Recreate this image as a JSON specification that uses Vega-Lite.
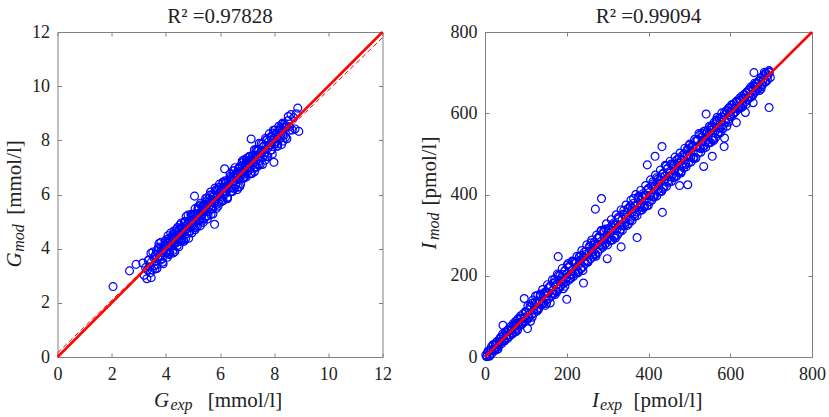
{
  "$schema": "https://vega.github.io/schema/vega-lite/v6.json",
  "padding": {"left": 2.5, "top": 5, "right": 5, "bottom": 5},
  "spacing": 24.5,
  "datasets": {
    "G": [
      {"x": 2.05, "y": 2.6}, {"x": 2.66, "y": 3.18}, {"x": 2.9, "y": 3.42}, {"x": 3.46, "y": 2.93},
      {"x": 8.87, "y": 9.19}, {"x": 8.91, "y": 8.33}, {"x": 5.8, "y": 4.9}, {"x": 7.99, "y": 7.19},
      {"x": 6.17, "y": 6.95}, {"x": 5.06, "y": 5.94}, {"x": 7.15, "y": 8.05},
      {"x": 3.15, "y": 3.47}, {"x": 3.2, "y": 3.02}, {"x": 3.25, "y": 3.3}, {"x": 3.3, "y": 2.89},
      {"x": 3.35, "y": 3.56}, {"x": 3.4, "y": 3.33}, {"x": 3.45, "y": 3.83}, {"x": 3.5, "y": 3.21},
      {"x": 3.55, "y": 3.67}, {"x": 3.6, "y": 3.25}, {"x": 3.65, "y": 3.92}, {"x": 3.7, "y": 3.68},
      {"x": 3.75, "y": 4.19}, {"x": 3.8, "y": 3.58}, {"x": 3.85, "y": 3.94}, {"x": 3.9, "y": 3.44},
      {"x": 3.95, "y": 4.12}, {"x": 4.0, "y": 3.88},
      {"x": 4.03, "y": 4.34}, {"x": 4.06, "y": 3.68}, {"x": 4.09, "y": 4.11}, {"x": 4.12, "y": 4.37},
      {"x": 4.15, "y": 3.88}, {"x": 4.18, "y": 4.58}, {"x": 4.21, "y": 4.12}, {"x": 4.24, "y": 4.38},
      {"x": 4.27, "y": 3.94}, {"x": 4.3, "y": 4.65}, {"x": 4.33, "y": 4.18}, {"x": 4.36, "y": 4.43},
      {"x": 4.39, "y": 4.71}, {"x": 4.42, "y": 4.24}, {"x": 4.45, "y": 4.5}, {"x": 4.48, "y": 4.07},
      {"x": 4.51, "y": 4.72}, {"x": 4.54, "y": 4.47}, {"x": 4.57, "y": 4.95}, {"x": 4.6, "y": 4.31},
      {"x": 4.63, "y": 4.75}, {"x": 4.66, "y": 4.31}, {"x": 4.69, "y": 4.96}, {"x": 4.72, "y": 4.7},
      {"x": 4.75, "y": 5.19}, {"x": 4.78, "y": 4.56}, {"x": 4.81, "y": 4.9}, {"x": 4.84, "y": 4.38},
      {"x": 4.87, "y": 5.04}, {"x": 4.9, "y": 4.78}, {"x": 4.93, "y": 5.24}, {"x": 4.96, "y": 4.58},
      {"x": 4.99, "y": 5.01}, {"x": 5.02, "y": 5.27}, {"x": 5.05, "y": 4.78}, {"x": 5.08, "y": 5.48},
      {"x": 5.11, "y": 5.02}, {"x": 5.14, "y": 5.28}, {"x": 5.17, "y": 4.84}, {"x": 5.2, "y": 5.55},
      {"x": 5.23, "y": 5.08}, {"x": 5.26, "y": 5.33}, {"x": 5.29, "y": 5.61}, {"x": 5.32, "y": 5.14},
      {"x": 5.35, "y": 5.4}, {"x": 5.38, "y": 4.97}, {"x": 5.41, "y": 5.62}, {"x": 5.44, "y": 5.37},
      {"x": 5.47, "y": 5.85}, {"x": 5.5, "y": 5.21}, {"x": 5.53, "y": 5.65}, {"x": 5.56, "y": 5.21},
      {"x": 5.59, "y": 5.86}, {"x": 5.62, "y": 5.6}, {"x": 5.65, "y": 6.09}, {"x": 5.68, "y": 5.46},
      {"x": 5.71, "y": 5.8}, {"x": 5.74, "y": 5.28}, {"x": 5.77, "y": 5.94}, {"x": 5.8, "y": 5.68},
      {"x": 5.83, "y": 6.14}, {"x": 5.86, "y": 5.48}, {"x": 5.89, "y": 5.91}, {"x": 5.92, "y": 6.17},
      {"x": 5.95, "y": 5.68}, {"x": 5.98, "y": 6.38}, {"x": 6.01, "y": 5.92}, {"x": 6.04, "y": 6.18},
      {"x": 6.07, "y": 5.74}, {"x": 6.1, "y": 6.45}, {"x": 6.13, "y": 5.98}, {"x": 6.16, "y": 6.23},
      {"x": 6.19, "y": 6.51}, {"x": 6.22, "y": 6.04}, {"x": 6.25, "y": 6.3}, {"x": 6.28, "y": 5.87},
      {"x": 6.31, "y": 6.52}, {"x": 6.34, "y": 6.27}, {"x": 6.37, "y": 6.75}, {"x": 6.4, "y": 6.11},
      {"x": 6.43, "y": 6.55}, {"x": 6.46, "y": 6.11}, {"x": 6.49, "y": 6.76}, {"x": 6.52, "y": 6.5},
      {"x": 6.55, "y": 6.99}, {"x": 6.58, "y": 6.36}, {"x": 6.61, "y": 6.7}, {"x": 6.64, "y": 6.18},
      {"x": 6.67, "y": 6.84}, {"x": 6.7, "y": 6.58}, {"x": 6.73, "y": 7.04}, {"x": 6.76, "y": 6.38},
      {"x": 6.79, "y": 6.81}, {"x": 6.82, "y": 7.07}, {"x": 6.85, "y": 6.58}, {"x": 6.88, "y": 7.28},
      {"x": 6.91, "y": 6.82}, {"x": 6.94, "y": 7.08}, {"x": 6.97, "y": 6.64}, {"x": 7.0, "y": 7.35},
      {"x": 7.03, "y": 6.88}, {"x": 7.06, "y": 7.13}, {"x": 7.09, "y": 7.41}, {"x": 7.12, "y": 6.94},
      {"x": 7.15, "y": 7.2}, {"x": 7.18, "y": 6.77}, {"x": 7.21, "y": 7.42}, {"x": 7.24, "y": 7.17},
      {"x": 7.27, "y": 7.65}, {"x": 7.3, "y": 7.01}, {"x": 7.33, "y": 7.45}, {"x": 7.36, "y": 7.01},
      {"x": 7.39, "y": 7.66}, {"x": 7.42, "y": 7.4}, {"x": 7.45, "y": 7.89}, {"x": 7.48, "y": 7.26},
      {"x": 7.52, "y": 7.61}, {"x": 7.57, "y": 7.11}, {"x": 7.62, "y": 7.79}, {"x": 7.67, "y": 7.55},
      {"x": 7.72, "y": 8.03}, {"x": 7.77, "y": 7.39}, {"x": 7.82, "y": 7.84}, {"x": 7.87, "y": 8.12},
      {"x": 7.92, "y": 7.65}, {"x": 7.97, "y": 8.37}, {"x": 8.02, "y": 7.93}, {"x": 8.07, "y": 8.21},
      {"x": 8.12, "y": 7.79}, {"x": 8.17, "y": 8.52}, {"x": 8.22, "y": 8.07}, {"x": 8.27, "y": 8.34},
      {"x": 8.32, "y": 8.64}, {"x": 8.37, "y": 8.19}, {"x": 8.42, "y": 8.47}, {"x": 8.47, "y": 8.06},
      {"x": 8.52, "y": 8.73}, {"x": 8.57, "y": 8.5}, {"x": 8.62, "y": 8.95}, {"x": 8.67, "y": 8.38},
      {"x": 8.72, "y": 8.84}, {"x": 8.77, "y": 8.42}, {"x": 8.82, "y": 8.98},
      {"x": 3.32, "y": 3.22}, {"x": 3.37, "y": 3.59}, {"x": 3.42, "y": 3.11}, {"x": 3.47, "y": 3.51},
      {"x": 3.52, "y": 3.88}, {"x": 3.57, "y": 3.37}, {"x": 3.62, "y": 3.77}, {"x": 3.67, "y": 3.27},
      {"x": 3.72, "y": 4.0}, {"x": 3.77, "y": 3.72}, {"x": 3.82, "y": 4.24}, {"x": 3.87, "y": 3.63},
      {"x": 3.92, "y": 3.92}, {"x": 3.97, "y": 4.27}, {"x": 4.02, "y": 3.86}, {"x": 4.07, "y": 4.25},
      {"x": 4.12, "y": 3.78}, {"x": 4.17, "y": 4.27}, {"x": 4.22, "y": 4.46}, {"x": 4.27, "y": 3.84},
      {"x": 4.32, "y": 4.22}, {"x": 4.37, "y": 4.59}, {"x": 4.42, "y": 4.11}, {"x": 4.47, "y": 4.51},
      {"x": 4.52, "y": 4.88}, {"x": 4.57, "y": 4.37}, {"x": 4.62, "y": 4.77}, {"x": 4.67, "y": 4.27},
      {"x": 4.72, "y": 5.0}, {"x": 4.77, "y": 4.72}, {"x": 4.82, "y": 5.24}, {"x": 4.87, "y": 4.63},
      {"x": 4.92, "y": 4.92}, {"x": 4.97, "y": 5.27}, {"x": 5.02, "y": 4.86}, {"x": 5.07, "y": 5.25},
      {"x": 5.12, "y": 4.78}, {"x": 5.17, "y": 5.27}, {"x": 5.22, "y": 5.46}, {"x": 5.27, "y": 4.84},
      {"x": 5.32, "y": 5.22}, {"x": 5.37, "y": 5.59}, {"x": 5.42, "y": 5.11}, {"x": 5.47, "y": 5.51},
      {"x": 5.52, "y": 5.88}, {"x": 5.57, "y": 5.37}, {"x": 5.62, "y": 5.77}, {"x": 5.67, "y": 5.27},
      {"x": 5.72, "y": 6.0}, {"x": 5.77, "y": 5.72}, {"x": 5.82, "y": 6.24}, {"x": 5.87, "y": 5.63},
      {"x": 5.92, "y": 5.92}, {"x": 5.97, "y": 6.27}, {"x": 6.02, "y": 5.86}, {"x": 6.07, "y": 6.25},
      {"x": 6.12, "y": 5.78}, {"x": 6.17, "y": 6.27}, {"x": 6.22, "y": 6.46}, {"x": 6.27, "y": 5.84},
      {"x": 6.32, "y": 6.22}, {"x": 6.37, "y": 6.59}, {"x": 6.42, "y": 6.11}, {"x": 6.47, "y": 6.51},
      {"x": 6.52, "y": 6.88}, {"x": 6.57, "y": 6.37}, {"x": 6.62, "y": 6.77}, {"x": 6.67, "y": 6.27},
      {"x": 6.72, "y": 7.0}, {"x": 6.77, "y": 6.72}, {"x": 6.82, "y": 7.24}, {"x": 6.87, "y": 6.63},
      {"x": 6.92, "y": 6.92}, {"x": 6.97, "y": 7.27}, {"x": 7.02, "y": 6.86}, {"x": 7.07, "y": 7.25},
      {"x": 7.12, "y": 6.78}, {"x": 7.17, "y": 7.27}, {"x": 7.22, "y": 7.46}, {"x": 7.27, "y": 6.84},
      {"x": 7.32, "y": 7.22}, {"x": 7.37, "y": 7.59}, {"x": 7.42, "y": 7.11}, {"x": 7.47, "y": 7.51},
      {"x": 7.52, "y": 7.88}, {"x": 7.57, "y": 7.37}, {"x": 7.62, "y": 7.77}, {"x": 7.67, "y": 7.27},
      {"x": 7.72, "y": 8.0}, {"x": 7.77, "y": 7.72}, {"x": 7.82, "y": 8.24}, {"x": 7.87, "y": 7.63},
      {"x": 7.92, "y": 7.92}, {"x": 7.97, "y": 8.27}, {"x": 8.02, "y": 7.86}, {"x": 8.07, "y": 8.25},
      {"x": 8.12, "y": 7.78}, {"x": 8.17, "y": 8.27}, {"x": 8.22, "y": 8.46}, {"x": 8.27, "y": 7.84},
      {"x": 8.32, "y": 8.22}, {"x": 8.37, "y": 8.59}, {"x": 8.42, "y": 8.11}, {"x": 8.47, "y": 8.51},
      {"x": 8.52, "y": 8.88}, {"x": 8.57, "y": 8.37},
      {"x": 3.63, "y": 3.75}, {"x": 3.68, "y": 3.41}, {"x": 3.73, "y": 4.06}, {"x": 3.78, "y": 3.7},
      {"x": 3.83, "y": 4.03}, {"x": 3.88, "y": 3.5}, {"x": 3.93, "y": 3.98}, {"x": 3.98, "y": 4.27},
      {"x": 4.03, "y": 3.84}, {"x": 4.08, "y": 4.48}, {"x": 4.13, "y": 3.82}, {"x": 4.18, "y": 4.34},
      {"x": 4.23, "y": 4.21}, {"x": 4.28, "y": 4.53}, {"x": 4.33, "y": 3.89}, {"x": 4.38, "y": 4.46},
      {"x": 4.43, "y": 4.78}, {"x": 4.48, "y": 4.35}, {"x": 4.53, "y": 4.27}, {"x": 4.58, "y": 4.77},
      {"x": 4.63, "y": 4.58}, {"x": 4.68, "y": 4.99}, {"x": 4.73, "y": 4.37}, {"x": 4.78, "y": 4.88},
      {"x": 4.83, "y": 4.95}, {"x": 4.88, "y": 4.61}, {"x": 4.93, "y": 5.26}, {"x": 4.98, "y": 4.9},
      {"x": 5.03, "y": 5.23}, {"x": 5.08, "y": 4.7}, {"x": 5.13, "y": 5.18}, {"x": 5.18, "y": 5.47},
      {"x": 5.23, "y": 5.04}, {"x": 5.28, "y": 5.68}, {"x": 5.33, "y": 5.02}, {"x": 5.38, "y": 5.54},
      {"x": 5.43, "y": 5.41}, {"x": 5.48, "y": 5.73}, {"x": 5.53, "y": 5.09}, {"x": 5.58, "y": 5.66},
      {"x": 5.63, "y": 5.98}, {"x": 5.68, "y": 5.55}, {"x": 5.73, "y": 5.47}, {"x": 5.78, "y": 5.97},
      {"x": 5.83, "y": 5.78}, {"x": 5.88, "y": 6.19}, {"x": 5.93, "y": 5.57}, {"x": 5.98, "y": 6.08},
      {"x": 6.03, "y": 6.15}, {"x": 6.08, "y": 5.81}, {"x": 6.13, "y": 6.46}, {"x": 6.18, "y": 6.1},
      {"x": 6.23, "y": 6.43}, {"x": 6.28, "y": 5.9}, {"x": 6.33, "y": 6.38}, {"x": 6.38, "y": 6.67},
      {"x": 6.43, "y": 6.24}, {"x": 6.48, "y": 6.88}, {"x": 6.53, "y": 6.22}, {"x": 6.58, "y": 6.74},
      {"x": 6.63, "y": 6.61}, {"x": 6.68, "y": 6.93}, {"x": 6.73, "y": 6.29}, {"x": 6.78, "y": 6.86},
      {"x": 6.83, "y": 7.18}, {"x": 6.88, "y": 6.75}, {"x": 6.93, "y": 6.67}, {"x": 6.98, "y": 7.17},
      {"x": 7.03, "y": 6.98}, {"x": 7.08, "y": 7.39}, {"x": 7.13, "y": 6.77}, {"x": 7.18, "y": 7.28},
      {"x": 7.23, "y": 7.35}, {"x": 7.28, "y": 7.01}, {"x": 7.33, "y": 7.66}, {"x": 7.38, "y": 7.3},
      {"x": 7.43, "y": 7.63}, {"x": 7.48, "y": 7.1}, {"x": 7.53, "y": 7.58}, {"x": 7.58, "y": 7.87},
      {"x": 7.63, "y": 7.44}, {"x": 7.68, "y": 8.08}, {"x": 7.73, "y": 7.42}, {"x": 7.78, "y": 7.94},
      {"x": 7.83, "y": 7.81}, {"x": 7.88, "y": 8.13}, {"x": 7.93, "y": 7.49}, {"x": 7.98, "y": 8.06},
      {"x": 8.03, "y": 8.38}, {"x": 8.08, "y": 7.95}, {"x": 8.13, "y": 7.87}, {"x": 8.18, "y": 8.37},
      {"x": 8.23, "y": 8.18}, {"x": 8.28, "y": 8.59}, {"x": 8.33, "y": 7.97}, {"x": 8.38, "y": 8.48},
      {"x": 8.43, "y": 8.55}
    ],
    "I": [
      {"x": 2, "y": 5}, {"x": 5, "y": 2}, {"x": 8, "y": 14}, {"x": 11, "y": 4}, {"x": 14, "y": 18},
      {"x": 17, "y": 9}, {"x": 20, "y": 28}, {"x": 23, "y": 15}, {"x": 26, "y": 20}, {"x": 29, "y": 38},
      {"x": 32, "y": 25}, {"x": 35, "y": 30}, {"x": 38, "y": 48}, {"x": 41, "y": 33}, {"x": 44, "y": 78},
      {"x": 45, "y": 52}, {"x": 48, "y": 40}, {"x": 51, "y": 62}, {"x": 54, "y": 47}, {"x": 57, "y": 68},
      {"x": 60, "y": 51}, {"x": 63, "y": 75}, {"x": 66, "y": 58}, {"x": 69, "y": 82}, {"x": 72, "y": 63},
      {"x": 75, "y": 88}, {"x": 78, "y": 71}, {"x": 81, "y": 94}, {"x": 84, "y": 76}, {"x": 87, "y": 101},
      {"x": 90, "y": 80}, {"x": 93, "y": 106}, {"x": 96, "y": 86}, {"x": 96, "y": 144}, {"x": 99, "y": 112},
      {"x": 102, "y": 92}, {"x": 104, "y": 70},
      {"x": 105, "y": 126}, {"x": 108, "y": 98}, {"x": 111, "y": 122}, {"x": 114, "y": 104},
      {"x": 117, "y": 140}, {"x": 120, "y": 108}, {"x": 123, "y": 136}, {"x": 126, "y": 116},
      {"x": 129, "y": 152}, {"x": 132, "y": 121}, {"x": 135, "y": 150}, {"x": 138, "y": 128},
      {"x": 141, "y": 166}, {"x": 144, "y": 133}, {"x": 147, "y": 160}, {"x": 150, "y": 140},
      {"x": 153, "y": 178}, {"x": 156, "y": 144}, {"x": 159, "y": 174}, {"x": 162, "y": 150},
      {"x": 165, "y": 190}, {"x": 168, "y": 156}, {"x": 171, "y": 185}, {"x": 174, "y": 162},
      {"x": 177, "y": 204}, {"x": 179, "y": 247}, {"x": 180, "y": 168}, {"x": 183, "y": 200},
      {"x": 186, "y": 176}, {"x": 189, "y": 218}, {"x": 192, "y": 181}, {"x": 195, "y": 212},
      {"x": 198, "y": 186}, {"x": 200, "y": 142}, {"x": 201, "y": 226}, {"x": 204, "y": 188},
      {"x": 207, "y": 221}, {"x": 210, "y": 194}, {"x": 213, "y": 236}, {"x": 216, "y": 198},
      {"x": 219, "y": 234}, {"x": 222, "y": 206}, {"x": 225, "y": 248}, {"x": 228, "y": 210},
      {"x": 231, "y": 246}, {"x": 234, "y": 218}, {"x": 237, "y": 262}, {"x": 240, "y": 222},
      {"x": 241, "y": 182}, {"x": 243, "y": 258}, {"x": 246, "y": 230}, {"x": 249, "y": 276},
      {"x": 252, "y": 234}, {"x": 255, "y": 270}, {"x": 258, "y": 242}, {"x": 261, "y": 288},
      {"x": 264, "y": 246}, {"x": 267, "y": 282}, {"x": 270, "y": 364}, {"x": 270, "y": 254},
      {"x": 273, "y": 300}, {"x": 276, "y": 258}, {"x": 279, "y": 296}, {"x": 282, "y": 266},
      {"x": 285, "y": 390}, {"x": 285, "y": 312}, {"x": 288, "y": 270}, {"x": 291, "y": 308},
      {"x": 294, "y": 278}, {"x": 297, "y": 328}, {"x": 299, "y": 242},
      {"x": 300, "y": 276}, {"x": 303, "y": 316}, {"x": 306, "y": 286}, {"x": 309, "y": 338},
      {"x": 312, "y": 288}, {"x": 315, "y": 326}, {"x": 318, "y": 298}, {"x": 321, "y": 350},
      {"x": 324, "y": 300}, {"x": 327, "y": 340}, {"x": 330, "y": 308}, {"x": 333, "y": 271},
      {"x": 333, "y": 362}, {"x": 336, "y": 312}, {"x": 339, "y": 352}, {"x": 342, "y": 324},
      {"x": 345, "y": 374}, {"x": 348, "y": 324}, {"x": 351, "y": 364}, {"x": 354, "y": 336},
      {"x": 357, "y": 386}, {"x": 360, "y": 336}, {"x": 363, "y": 378}, {"x": 366, "y": 346},
      {"x": 369, "y": 400}, {"x": 372, "y": 294}, {"x": 372, "y": 348}, {"x": 375, "y": 390},
      {"x": 378, "y": 360}, {"x": 381, "y": 410}, {"x": 384, "y": 362}, {"x": 387, "y": 402},
      {"x": 390, "y": 370}, {"x": 393, "y": 422}, {"x": 396, "y": 372}, {"x": 397, "y": 473},
      {"x": 399, "y": 414}, {"x": 402, "y": 382}, {"x": 405, "y": 436}, {"x": 408, "y": 386},
      {"x": 411, "y": 426}, {"x": 414, "y": 394}, {"x": 416, "y": 494}, {"x": 417, "y": 448},
      {"x": 420, "y": 396}, {"x": 423, "y": 438}, {"x": 426, "y": 406}, {"x": 429, "y": 460},
      {"x": 432, "y": 408}, {"x": 433, "y": 518}, {"x": 434, "y": 356}, {"x": 435, "y": 450},
      {"x": 438, "y": 418}, {"x": 441, "y": 472}, {"x": 444, "y": 420}, {"x": 447, "y": 464},
      {"x": 450, "y": 430}, {"x": 453, "y": 482}, {"x": 456, "y": 432}, {"x": 459, "y": 474},
      {"x": 462, "y": 442}, {"x": 465, "y": 492}, {"x": 468, "y": 444}, {"x": 471, "y": 486},
      {"x": 474, "y": 454}, {"x": 476, "y": 422}, {"x": 477, "y": 502}, {"x": 480, "y": 456},
      {"x": 483, "y": 496}, {"x": 486, "y": 466}, {"x": 489, "y": 514}, {"x": 492, "y": 468},
      {"x": 495, "y": 508}, {"x": 496, "y": 424}, {"x": 498, "y": 478}, {"x": 501, "y": 524},
      {"x": 504, "y": 480}, {"x": 507, "y": 520}, {"x": 510, "y": 490}, {"x": 513, "y": 536},
      {"x": 516, "y": 490}, {"x": 519, "y": 532}, {"x": 522, "y": 502}, {"x": 525, "y": 546},
      {"x": 528, "y": 504}, {"x": 531, "y": 542}, {"x": 534, "y": 514}, {"x": 535, "y": 469},
      {"x": 537, "y": 556}, {"x": 540, "y": 516}, {"x": 541, "y": 598}, {"x": 543, "y": 554},
      {"x": 546, "y": 526}, {"x": 549, "y": 568}, {"x": 552, "y": 528}, {"x": 555, "y": 566},
      {"x": 556, "y": 494}, {"x": 558, "y": 538}, {"x": 561, "y": 578}, {"x": 564, "y": 540},
      {"x": 567, "y": 580}, {"x": 568, "y": 590}, {"x": 570, "y": 550}, {"x": 573, "y": 588},
      {"x": 576, "y": 552}, {"x": 579, "y": 590}, {"x": 582, "y": 562}, {"x": 585, "y": 518},
      {"x": 586, "y": 539}, {"x": 586, "y": 602},
      {"x": 589, "y": 578}, {"x": 592, "y": 606}, {"x": 595, "y": 584}, {"x": 598, "y": 614},
      {"x": 601, "y": 592}, {"x": 604, "y": 620}, {"x": 607, "y": 598}, {"x": 610, "y": 624},
      {"x": 613, "y": 604}, {"x": 615, "y": 577}, {"x": 616, "y": 630}, {"x": 619, "y": 610},
      {"x": 622, "y": 636}, {"x": 625, "y": 616}, {"x": 628, "y": 642}, {"x": 631, "y": 622},
      {"x": 634, "y": 646}, {"x": 637, "y": 602}, {"x": 637, "y": 628}, {"x": 640, "y": 652},
      {"x": 643, "y": 634}, {"x": 646, "y": 658}, {"x": 649, "y": 640}, {"x": 652, "y": 662},
      {"x": 655, "y": 646}, {"x": 656, "y": 626}, {"x": 658, "y": 700}, {"x": 658, "y": 668},
      {"x": 661, "y": 652}, {"x": 664, "y": 674}, {"x": 667, "y": 660}, {"x": 670, "y": 680},
      {"x": 673, "y": 664}, {"x": 676, "y": 688}, {"x": 679, "y": 670}, {"x": 682, "y": 692},
      {"x": 685, "y": 676}, {"x": 688, "y": 698}, {"x": 691, "y": 682}, {"x": 694, "y": 702},
      {"x": 695, "y": 614}, {"x": 695, "y": 705}, {"x": 698, "y": 688},
      {"x": 3.5, "y": 1}, {"x": 7.5, "y": 14}, {"x": 11.5, "y": 3}, {"x": 15.5, "y": 17},
      {"x": 19.5, "y": 30}, {"x": 23.5, "y": 18}, {"x": 27.5, "y": 32}, {"x": 31.5, "y": 20},
      {"x": 35.5, "y": 44}, {"x": 39.5, "y": 38}, {"x": 43.5, "y": 57}, {"x": 47.5, "y": 40},
      {"x": 51.5, "y": 52}, {"x": 55.5, "y": 65}, {"x": 59.5, "y": 55}, {"x": 63.5, "y": 69},
      {"x": 67.5, "y": 57}, {"x": 71.5, "y": 75}, {"x": 75.5, "y": 83}, {"x": 79.5, "y": 66},
      {"x": 83.5, "y": 80}, {"x": 87.5, "y": 94}, {"x": 91.5, "y": 83}, {"x": 95.5, "y": 97},
      {"x": 99.5, "y": 110}, {"x": 103.5, "y": 92}, {"x": 107.5, "y": 116}, {"x": 111.5, "y": 88},
      {"x": 115.5, "y": 132}, {"x": 119.5, "y": 116}, {"x": 123.5, "y": 150}, {"x": 127.5, "y": 113},
      {"x": 131.5, "y": 132}, {"x": 135.5, "y": 155}, {"x": 139.5, "y": 130}, {"x": 143.5, "y": 154},
      {"x": 147.5, "y": 127}, {"x": 151.5, "y": 158}, {"x": 155.5, "y": 170}, {"x": 159.5, "y": 133},
      {"x": 163.5, "y": 156}, {"x": 167.5, "y": 181}, {"x": 171.5, "y": 154}, {"x": 175.5, "y": 179},
      {"x": 179.5, "y": 201}, {"x": 183.5, "y": 172}, {"x": 187.5, "y": 196}, {"x": 191.5, "y": 168},
      {"x": 195.5, "y": 212}, {"x": 199.5, "y": 196}, {"x": 203.5, "y": 230}, {"x": 207.5, "y": 193},
      {"x": 211.5, "y": 212}, {"x": 215.5, "y": 235}, {"x": 219.5, "y": 210}, {"x": 223.5, "y": 234},
      {"x": 227.5, "y": 207}, {"x": 231.5, "y": 238}, {"x": 235.5, "y": 250}, {"x": 239.5, "y": 213},
      {"x": 243.5, "y": 236}, {"x": 247.5, "y": 261}, {"x": 251.5, "y": 234}, {"x": 255.5, "y": 259},
      {"x": 259.5, "y": 281}, {"x": 263.5, "y": 252}, {"x": 267.5, "y": 276}, {"x": 271.5, "y": 248},
      {"x": 275.5, "y": 292}, {"x": 279.5, "y": 276}, {"x": 283.5, "y": 310}, {"x": 287.5, "y": 273},
      {"x": 291.5, "y": 292}, {"x": 295.5, "y": 315}, {"x": 299.5, "y": 290}, {"x": 303.5, "y": 314},
      {"x": 307.5, "y": 287}, {"x": 311.5, "y": 318}, {"x": 315.5, "y": 330}, {"x": 319.5, "y": 293},
      {"x": 323.5, "y": 316}, {"x": 327.5, "y": 341}, {"x": 331.5, "y": 314}, {"x": 335.5, "y": 339},
      {"x": 339.5, "y": 361}, {"x": 343.5, "y": 332}, {"x": 347.5, "y": 356}, {"x": 351.5, "y": 328},
      {"x": 355.5, "y": 372}, {"x": 359.5, "y": 356}, {"x": 363.5, "y": 390}, {"x": 367.5, "y": 353},
      {"x": 371.5, "y": 372}, {"x": 375.5, "y": 395}, {"x": 379.5, "y": 370}, {"x": 383.5, "y": 394},
      {"x": 387.5, "y": 367}, {"x": 391.5, "y": 398}, {"x": 395.5, "y": 410}, {"x": 399.5, "y": 373},
      {"x": 403.5, "y": 396}, {"x": 407.5, "y": 421}, {"x": 411.5, "y": 394}, {"x": 415.5, "y": 419},
      {"x": 419.5, "y": 441}, {"x": 423.5, "y": 412}, {"x": 427.5, "y": 436}, {"x": 431.5, "y": 408},
      {"x": 435.5, "y": 452}, {"x": 439.5, "y": 436}, {"x": 443.5, "y": 470}, {"x": 447.5, "y": 433},
      {"x": 451.5, "y": 452}, {"x": 455.5, "y": 475}, {"x": 459.5, "y": 450}, {"x": 463.5, "y": 474},
      {"x": 467.5, "y": 447}, {"x": 471.5, "y": 478}, {"x": 475.5, "y": 490}, {"x": 479.5, "y": 453},
      {"x": 483.5, "y": 476}, {"x": 487.5, "y": 501}, {"x": 491.5, "y": 474}, {"x": 495.5, "y": 499},
      {"x": 499.5, "y": 521}, {"x": 503.5, "y": 492}, {"x": 507.5, "y": 516}, {"x": 511.5, "y": 488},
      {"x": 515.5, "y": 532}, {"x": 519.5, "y": 516}, {"x": 523.5, "y": 550}, {"x": 527.5, "y": 513},
      {"x": 531.5, "y": 532}, {"x": 535.5, "y": 555}, {"x": 539.5, "y": 530}, {"x": 543.5, "y": 554},
      {"x": 547.5, "y": 527}, {"x": 551.5, "y": 558}, {"x": 555.5, "y": 570}, {"x": 559.5, "y": 533},
      {"x": 563.5, "y": 556}, {"x": 567.5, "y": 581}, {"x": 571.5, "y": 554}, {"x": 575.5, "y": 579},
      {"x": 579.5, "y": 601}, {"x": 583.5, "y": 572}, {"x": 587.5, "y": 596}, {"x": 591.5, "y": 568},
      {"x": 595.5, "y": 612}, {"x": 599.5, "y": 596}, {"x": 603.5, "y": 621}, {"x": 607.5, "y": 598},
      {"x": 611.5, "y": 612}, {"x": 615.5, "y": 628}, {"x": 619.5, "y": 613}, {"x": 623.5, "y": 631},
      {"x": 627.5, "y": 614}, {"x": 631.5, "y": 636}, {"x": 635.5, "y": 645}, {"x": 639.5, "y": 622},
      {"x": 643.5, "y": 639}, {"x": 647.5, "y": 656}, {"x": 651.5, "y": 640}, {"x": 655.5, "y": 658},
      {"x": 659.5, "y": 674}, {"x": 663.5, "y": 656}, {"x": 667.5, "y": 673}, {"x": 671.5, "y": 656},
      {"x": 675.5, "y": 687}, {"x": 679.5, "y": 677}, {"x": 683.5, "y": 701}, {"x": 687.5, "y": 678},
      {"x": 691.5, "y": 692}, {"x": 695.5, "y": 700},
      {"x": 5.5, "y": 9}, {"x": 10.5, "y": 2}, {"x": 15.5, "y": 25}, {"x": 20.5, "y": 18},
      {"x": 25.5, "y": 32}, {"x": 30.5, "y": 19}, {"x": 35.5, "y": 37}, {"x": 40.5, "y": 49},
      {"x": 45.5, "y": 40}, {"x": 50.5, "y": 62}, {"x": 55.5, "y": 46}, {"x": 60.5, "y": 65},
      {"x": 65.5, "y": 65}, {"x": 70.5, "y": 78}, {"x": 75.5, "y": 62}, {"x": 80.5, "y": 83},
      {"x": 85.5, "y": 96}, {"x": 90.5, "y": 87}, {"x": 95.5, "y": 88}, {"x": 100.5, "y": 110},
      {"x": 105.5, "y": 103}, {"x": 110.5, "y": 126}, {"x": 115.5, "y": 98}, {"x": 120.5, "y": 126},
      {"x": 125.5, "y": 132}, {"x": 130.5, "y": 117}, {"x": 135.5, "y": 152}, {"x": 140.5, "y": 137},
      {"x": 145.5, "y": 156}, {"x": 150.5, "y": 132}, {"x": 155.5, "y": 158}, {"x": 160.5, "y": 175},
      {"x": 165.5, "y": 156}, {"x": 170.5, "y": 191}, {"x": 175.5, "y": 160}, {"x": 180.5, "y": 189},
      {"x": 185.5, "y": 185}, {"x": 190.5, "y": 203}, {"x": 195.5, "y": 174}, {"x": 200.5, "y": 205},
      {"x": 205.5, "y": 223}, {"x": 210.5, "y": 204}, {"x": 215.5, "y": 203}, {"x": 220.5, "y": 230},
      {"x": 225.5, "y": 223}, {"x": 230.5, "y": 246}, {"x": 235.5, "y": 218}, {"x": 240.5, "y": 246},
      {"x": 245.5, "y": 252}, {"x": 250.5, "y": 237}, {"x": 255.5, "y": 272}, {"x": 260.5, "y": 257},
      {"x": 265.5, "y": 276}, {"x": 270.5, "y": 252}, {"x": 275.5, "y": 278}, {"x": 280.5, "y": 295},
      {"x": 285.5, "y": 276}, {"x": 290.5, "y": 311}, {"x": 295.5, "y": 280}, {"x": 300.5, "y": 309},
      {"x": 305.5, "y": 305}, {"x": 310.5, "y": 323}, {"x": 315.5, "y": 294}, {"x": 320.5, "y": 325},
      {"x": 325.5, "y": 343}, {"x": 330.5, "y": 324}, {"x": 335.5, "y": 323}, {"x": 340.5, "y": 350},
      {"x": 345.5, "y": 343}, {"x": 350.5, "y": 366}, {"x": 355.5, "y": 338}, {"x": 360.5, "y": 366},
      {"x": 365.5, "y": 372}, {"x": 370.5, "y": 357}, {"x": 375.5, "y": 392}, {"x": 380.5, "y": 377},
      {"x": 385.5, "y": 396}, {"x": 390.5, "y": 372}, {"x": 395.5, "y": 398}, {"x": 400.5, "y": 415},
      {"x": 405.5, "y": 396}, {"x": 410.5, "y": 431}, {"x": 415.5, "y": 400}, {"x": 420.5, "y": 429},
      {"x": 425.5, "y": 425}, {"x": 430.5, "y": 443}, {"x": 435.5, "y": 414}, {"x": 440.5, "y": 445},
      {"x": 445.5, "y": 463}, {"x": 450.5, "y": 444}, {"x": 455.5, "y": 443}, {"x": 460.5, "y": 470},
      {"x": 465.5, "y": 463}, {"x": 470.5, "y": 486}, {"x": 475.5, "y": 458}, {"x": 480.5, "y": 486},
      {"x": 485.5, "y": 492}, {"x": 490.5, "y": 477}, {"x": 495.5, "y": 512}, {"x": 500.5, "y": 497},
      {"x": 505.5, "y": 516}, {"x": 510.5, "y": 492}, {"x": 515.5, "y": 518}, {"x": 520.5, "y": 535},
      {"x": 525.5, "y": 516}, {"x": 530.5, "y": 551}, {"x": 535.5, "y": 520}, {"x": 540.5, "y": 549},
      {"x": 545.5, "y": 545}, {"x": 550.5, "y": 563}, {"x": 555.5, "y": 534}, {"x": 560.5, "y": 565},
      {"x": 565.5, "y": 583}, {"x": 570.5, "y": 564}, {"x": 575.5, "y": 563}, {"x": 580.5, "y": 590},
      {"x": 585.5, "y": 583}, {"x": 590.5, "y": 606}, {"x": 595.5, "y": 578}, {"x": 600.5, "y": 604},
      {"x": 605.5, "y": 610}, {"x": 610.5, "y": 601}, {"x": 615.5, "y": 627}, {"x": 620.5, "y": 618},
      {"x": 625.5, "y": 633}, {"x": 630.5, "y": 617}, {"x": 635.5, "y": 637}, {"x": 640.5, "y": 651},
      {"x": 645.5, "y": 639}, {"x": 650.5, "y": 665}, {"x": 655.5, "y": 645}, {"x": 660.5, "y": 666},
      {"x": 665.5, "y": 665}, {"x": 670.5, "y": 679}, {"x": 675.5, "y": 660}, {"x": 680.5, "y": 683},
      {"x": 685.5, "y": 698}
    ],
    "Gfit": [{"x": 0, "y": 0}, {"x": 12, "y": 12}],
    "Gref": [{"x": 0, "y": 0.15}, {"x": 12, "y": 11.79}],
    "Ifit": [{"x": 0, "y": 0}, {"x": 800, "y": 800}],
    "Iref": [{"x": 0, "y": 2}, {"x": 800, "y": 797}]
  },
  "hconcat": [
    {
      "width": 325,
      "height": 325,
      "title": {"text": "R² =0.97828"},
      "layer": [
        {
          "data": {"name": "G"},
          "mark": {"type": "point", "shape": "circle", "filled": false, "color": "#0000ff", "strokeWidth": 1.2, "size": 62, "opacity": 1},
          "encoding": {
            "x": {"field": "x", "type": "quantitative", "scale": {"domain": [0, 12], "nice": false},
              "axis": {"orient": "bottom", "values": [0, 2, 4, 6, 8, 10, 12], "title": "[mmol/l]", "titleX": 187, "titleY": 49}},
            "y": {"field": "y", "type": "quantitative", "scale": {"domain": [0, 12], "nice": false},
              "axis": {"orient": "left", "values": [0, 2, 4, 6, 8, 10, 12], "title": "[mmol/l]", "titleX": -37.5, "titleY": 145, "titleAngle": 270}}
          }
        },
        {
          "data": {"name": "Gfit"},
          "mark": {"type": "line", "color": "#ff0000", "strokeWidth": 2.5},
          "encoding": {
            "x": {"field": "x", "type": "quantitative", "scale": {"domain": [0, 12], "nice": false},
              "axis": {"orient": "top", "values": [0, 2, 4, 6, 8, 10, 12], "labels": false, "title": null}},
            "y": {"field": "y", "type": "quantitative", "scale": {"domain": [0, 12], "nice": false},
              "axis": {"orient": "right", "values": [0, 2, 4, 6, 8, 10, 12], "labels": false, "title": null}}
          }
        },
        {
          "data": {"name": "Gref"},
          "mark": {"type": "line", "color": "#ff0000", "strokeWidth": 1, "strokeDash": [5, 3]},
          "encoding": {
            "x": {"field": "x", "type": "quantitative", "scale": {"domain": [0, 12], "nice": false},
              "axis": {"orient": "bottom", "labels": false, "ticks": false, "title": "G", "titleFontStyle": "italic", "titleX": 103.5, "titleY": 49}},
            "y": {"field": "y", "type": "quantitative", "scale": {"domain": [0, 12], "nice": false},
              "axis": {"orient": "left", "labels": false, "ticks": false, "title": "G", "titleFontStyle": "italic", "titleX": -37.5, "titleY": 227.5, "titleAngle": 270}}
          }
        },
        {
          "data": {"name": "Gfit"},
          "mark": {"type": "line", "opacity": 0},
          "encoding": {
            "x": {"field": "x", "type": "quantitative", "scale": {"domain": [0, 12], "nice": false},
              "axis": {"orient": "bottom", "labels": false, "ticks": false, "title": "exp", "titleFontStyle": "italic", "titleFontSize": 16, "titleX": 123.5, "titleY": 52}},
            "y": {"field": "y", "type": "quantitative", "scale": {"domain": [0, 12], "nice": false},
              "axis": {"orient": "left", "labels": false, "ticks": false, "title": "mod", "titleFontStyle": "italic", "titleFontSize": 16, "titleX": -34.5, "titleY": 205.5, "titleAngle": 270}}
          }
        }
      ],
      "resolve": {"axis": {"x": "independent", "y": "independent"}}
    },
    {
      "width": 327,
      "height": 325,
      "title": {"text": "R² =0.99094"},
      "layer": [
        {
          "data": {"name": "I"},
          "mark": {"type": "point", "shape": "circle", "filled": false, "color": "#0000ff", "strokeWidth": 1.2, "size": 62, "opacity": 1},
          "encoding": {
            "x": {"field": "x", "type": "quantitative", "scale": {"domain": [0, 800], "nice": false},
              "axis": {"orient": "bottom", "values": [0, 200, 400, 600, 800], "title": "[pmol/l]", "titleX": 182.5, "titleY": 49}},
            "y": {"field": "y", "type": "quantitative", "scale": {"domain": [0, 800], "nice": false},
              "axis": {"orient": "left", "values": [0, 200, 400, 600, 800], "title": "[pmol/l]", "titleX": -50, "titleY": 138.5, "titleAngle": 270}}
          }
        },
        {
          "data": {"name": "Ifit"},
          "mark": {"type": "line", "color": "#ff0000", "strokeWidth": 2.5},
          "encoding": {
            "x": {"field": "x", "type": "quantitative", "scale": {"domain": [0, 800], "nice": false},
              "axis": {"orient": "top", "values": [0, 200, 400, 600, 800], "labels": false, "title": null}},
            "y": {"field": "y", "type": "quantitative", "scale": {"domain": [0, 800], "nice": false},
              "axis": {"orient": "right", "values": [0, 200, 400, 600, 800], "labels": false, "title": null}}
          }
        },
        {
          "data": {"name": "Iref"},
          "mark": {"type": "line", "color": "#ff0000", "strokeWidth": 1, "strokeDash": [5, 3]},
          "encoding": {
            "x": {"field": "x", "type": "quantitative", "scale": {"domain": [0, 800], "nice": false},
              "axis": {"orient": "bottom", "labels": false, "ticks": false, "title": "I", "titleFontStyle": "italic", "titleX": 110, "titleY": 49}},
            "y": {"field": "y", "type": "quantitative", "scale": {"domain": [0, 800], "nice": false},
              "axis": {"orient": "left", "labels": false, "ticks": false, "title": "I", "titleFontStyle": "italic", "titleX": -50, "titleY": 213.4, "titleAngle": 270}}
          }
        },
        {
          "data": {"name": "Ifit"},
          "mark": {"type": "line", "opacity": 0},
          "encoding": {
            "x": {"field": "x", "type": "quantitative", "scale": {"domain": [0, 800], "nice": false},
              "axis": {"orient": "bottom", "labels": false, "ticks": false, "title": "exp", "titleFontStyle": "italic", "titleFontSize": 16, "titleX": 125.5, "titleY": 52}},
            "y": {"field": "y", "type": "quantitative", "scale": {"domain": [0, 800], "nice": false},
              "axis": {"orient": "left", "labels": false, "ticks": false, "title": "mod", "titleFontStyle": "italic", "titleFontSize": 16, "titleX": -47, "titleY": 193.7, "titleAngle": 270}}
          }
        }
      ],
      "resolve": {"axis": {"x": "independent", "y": "independent"}}
    }
  ],
  "config": {
    "font": "Liberation Serif, DejaVu Serif, serif",
    "view": {"stroke": "#808080", "strokeWidth": 1},
    "axis": {
      "grid": false,
      "domain": false,
      "ticks": true,
      "tickColor": "#808080",
      "tickSize": -4,
      "labelFont": "Liberation Serif, DejaVu Serif, serif",
      "labelFontSize": 18,
      "labelColor": "#222222",
      "labelPadding": 12,
      "labelFlush": false,
      "labelOverlap": false,
      "titleFont": "Liberation Serif, DejaVu Serif, serif",
      "titleFontSize": 21,
      "titleFontWeight": "normal",
      "titleColor": "#222222",
      "titleAlign": "center",
      "titleBaseline": "alphabetic"
    },
    "title": {"font": "Liberation Serif, DejaVu Serif, serif", "fontSize": 21, "fontWeight": "normal", "color": "#222222", "offset": -4}
  }
}
